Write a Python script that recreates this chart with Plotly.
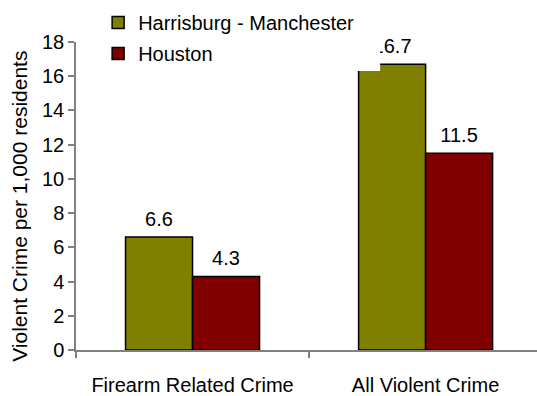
import plotly.graph_objects as go

categories = ["Firearm Related Crime", "All Violent Crime"]
series_names = ["Harrisburg - Manchester", "Houston"]
harrisburg = [6.6, 16.7]
houston = [4.3, 11.5]
label_text = [["6.6", "16.7"], ["4.3", "11.5"]]
y_ticks = [0, 2, 4, 6, 8, 10, 12, 14, 16, 18]
y_title = "Violent Crime per 1,000 residents"

colors = ["#808000", "#800000"]
FONT = "Liberation Sans, Arial, sans-serif"
BAR_W = 0.2875

idx = list(range(len(categories)))
fig = go.Figure()

for k, (name, vals) in enumerate(zip(series_names, [harrisburg, houston])):
    offset = -BAR_W if k == 0 else 0.0
    fig.add_trace(go.Bar(
        x=idx, y=vals, name=name, width=BAR_W, offset=offset,
        marker=dict(color=colors[k], line=dict(color="#000000", width=1.5)),
        legendgroup=f"g{k}",
    ))
    # value labels above each bar
    fig.add_trace(go.Scatter(
        x=[i + offset + BAR_W / 2 for i in idx], y=vals,
        mode="markers+text", text=label_text[k], textposition="top center",
        marker=dict(size=8, opacity=0),
        textfont=dict(family=FONT, size=20, color="#000000"),
        showlegend=False, hoverinfo="skip", cliponaxis=False,
    ))

# white block over the top-left corner of the tall olive bar and its label
fig.add_shape(type="rect", xref="paper", yref="paper",
              x0=0.6095, x1=0.6597, y0=0.906, y1=1.04,
              fillcolor="#ffffff", line=dict(width=0), layer="above")

# y-axis title
fig.add_annotation(text=y_title, xref="paper", yref="paper",
                   x=-0.1215, y=0.468, xanchor="center", yanchor="middle",
                   textangle=-90, showarrow=False,
                   font=dict(family=FONT, size=21, color="#000000"))

fig.update_layout(
    width=537, height=396,
    margin=dict(l=76, r=0, t=42, b=38),
    paper_bgcolor="#ffffff", plot_bgcolor="#ffffff",
    font=dict(family=FONT, size=20, color="#000000"),
    showlegend=True,
    legend=dict(x=0.048, y=1.127, xanchor="left", yanchor="top",
                font=dict(family=FONT, size=20), bgcolor="rgba(0,0,0,0)",
                tracegroupgap=2),
    bargap=0.425,
)

fig.update_xaxes(
    range=[-0.5, 1.478], tickmode="array", tickvals=idx, ticktext=categories,
    ticks="", showline=True, linecolor="#808080", linewidth=1.5,
    showgrid=False, zeroline=False, ticklabelstandoff=16,
    tickfont=dict(family=FONT, size=20),
    minor=dict(tickvals=[-0.5, 0.5, 1.5], ticks="outside", ticklen=6,
               tickcolor="#808080", tickwidth=1.5, showgrid=False),
)
fig.update_yaxes(
    range=[0, 18], tickmode="array", tickvals=y_ticks,
    ticks="outside", ticklen=6, tickcolor="#808080", tickwidth=1.5,
    showline=True, linecolor="#808080", linewidth=1.5,
    showgrid=False, zeroline=False,
    tickfont=dict(family=FONT, size=20),
)

fig.write_html("out.html")
